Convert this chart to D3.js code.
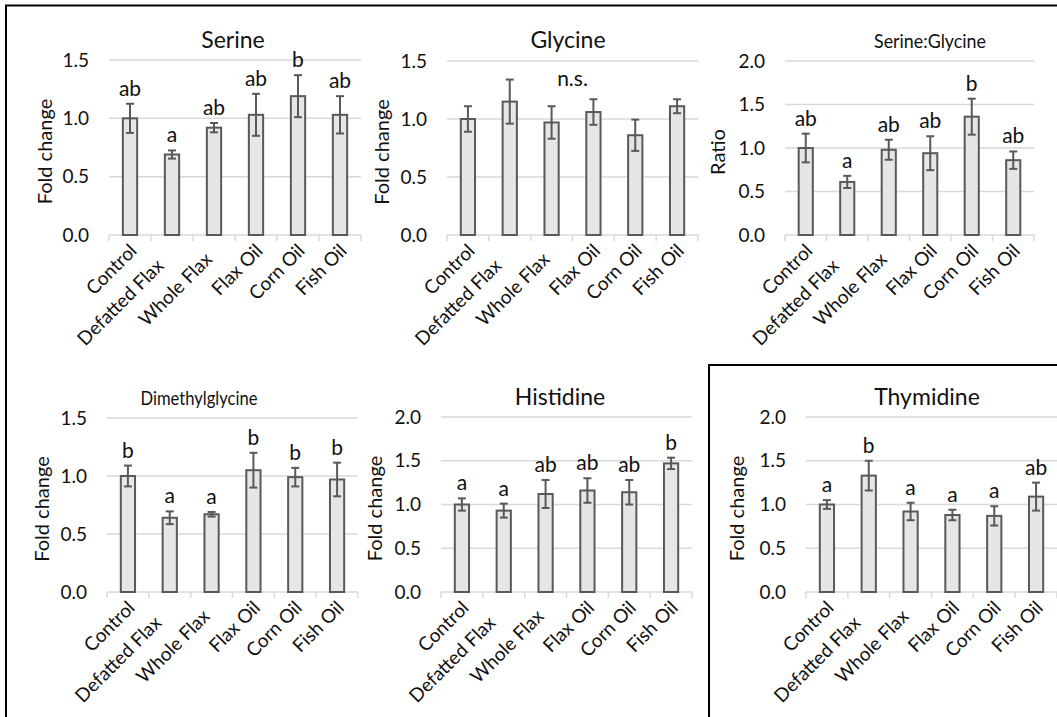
<!DOCTYPE html>
<html>
<head>
<meta charset="utf-8">
<script src="https://cdn.jsdelivr.net/npm/d3@7"></script>
<style>
  html, body { margin: 0; padding: 0; background: #fff; }
  svg { display: block; font-family: Lato, "Open Sans", sans-serif; }
</style>
</head>
<body>
<svg id="fig" width="1057" height="717"></svg>
<script>
// Diet groups shown on every panel
const groups = ["Control", "Defatted Flax", "Whole Flax", "Flax Oil", "Corn Oil", "Fish Oil"];

// Serine (fold change vs control)
const serineMean = [1.00, 0.69, 0.92, 1.03, 1.19, 1.03];
const serineErr = [0.125, 0.035, 0.04, 0.18, 0.18, 0.16];
const serineLetters = ["ab", "a", "ab", "ab", "b", "ab"];

// Glycine (fold change vs control)
const glycineMean = [1.00, 1.15, 0.97, 1.06, 0.86, 1.11];
const glycineErr = [0.11, 0.19, 0.14, 0.11, 0.135, 0.06];
const glycineLetters = ["", "", "", "", "", ""];
const glycineNote = "n.s.";

// Serine:Glycine ratio
const ratioMean = [1.00, 0.61, 0.98, 0.94, 1.36, 0.86];
const ratioErr = [0.165, 0.07, 0.115, 0.195, 0.207, 0.10];
const ratioLetters = ["ab", "a", "ab", "ab", "b", "ab"];

// Dimethylglycine (fold change vs control)
const dmgMean = [1.00, 0.64, 0.67, 1.05, 0.99, 0.97];
const dmgErr = [0.09, 0.055, 0.02, 0.15, 0.08, 0.145];
const dmgLetters = ["b", "a", "a", "b", "b", "b"];

// Histidine (fold change vs control)
const hisMean = [1.00, 0.93, 1.12, 1.16, 1.14, 1.47];
const hisErr = [0.07, 0.08, 0.16, 0.14, 0.14, 0.065];
const hisLetters = ["a", "a", "ab", "ab", "ab", "b"];

// Thymidine (fold change vs control)
const thyMean = [1.00, 1.33, 0.92, 0.88, 0.87, 1.09];
const thyErr = [0.05, 0.17, 0.10, 0.06, 0.11, 0.16];
const thyLetters = ["a", "b", "a", "a", "a", "ab"];

// Y axis tick values
const ticks15 = [0, 0.5, 1.0, 1.5];
const ticks20 = [0, 0.5, 1.0, 1.5, 2.0];

// Panel layout: plot-area box, title and axis-title placement
// (titleWidth fits a long title into the given width)
const panels = [
  { title: "Serine", yTitle: "Fold change", mean: serineMean, err: serineErr, letters: serineLetters,
    ticks: ticks15, x0: 109, x1: 361, yTop: 60, yBot: 235, titleX: 233, titleY: 48, titleSize: 23, yTitleX: 45 },
  { title: "Glycine", yTitle: "Fold change", mean: glycineMean, err: glycineErr, letters: glycineLetters,
    note: glycineNote, ticks: ticks15, x0: 447, x1: 698, yTop: 61, yBot: 235, titleX: 568, titleY: 48, titleSize: 23, yTitleX: 382 },
  { title: "Serine:Glycine", yTitle: "Ratio", mean: ratioMean, err: ratioErr, letters: ratioLetters,
    ticks: ticks20, x0: 785, x1: 1034, yTop: 61, yBot: 235, titleX: 930, titleY: 48, titleSize: 20, titleWidth: 112, yTitleX: 718 },
  { title: "Dimethylglycine", yTitle: "Fold change", mean: dmgMean, err: dmgErr, letters: dmgLetters,
    ticks: ticks15, x0: 107, x1: 358, yTop: 418, yBot: 592, titleX: 199, titleY: 405, titleSize: 20, titleWidth: 117, yTitleX: 42 },
  { title: "Histidine", yTitle: "Fold change", mean: hisMean, err: hisErr, letters: hisLetters,
    ticks: ticks20, x0: 441, x1: 692, yTop: 417, yBot: 592, titleX: 560, titleY: 405, titleSize: 23, yTitleX: 375 },
  { title: "Thymidine", yTitle: "Fold change", mean: thyMean, err: thyErr, letters: thyLetters,
    ticks: ticks20, x0: 806, x1: 1057, yTop: 417, yBot: 592, titleX: 927, titleY: 405, titleSize: 23, yTitleX: 737 }
];

const svg = d3.select("#fig");
const barFill = "#e7e6e6", barStroke = "#595959", gridColor = "#d9d9d9", textColor = "#111";

// outer frame and the boxed Thymidine panel
svg.append("rect").attr("x", 6).attr("y", 5.5).attr("width", 1100).attr("height", 800)
  .attr("fill", "none").attr("stroke", "#000").attr("stroke-width", 2);
svg.append("rect").attr("x", 709).attr("y", 365).attr("width", 400).attr("height", 400)
  .attr("fill", "none").attr("stroke", "#000").attr("stroke-width", 2);

panels.forEach(p => {
  const g = svg.append("g");
  const x = d3.scaleBand().domain(groups).range([p.x0, p.x1]);
  const yMax = p.ticks[p.ticks.length - 1];
  const y = d3.scaleLinear().domain([0, yMax]).range([p.yBot, p.yTop]);
  const bw = x.bandwidth() * 0.34;
  const data = groups.map((k, i) => ({ k, m: p.mean[i], e: p.err[i], l: p.letters[i] }));

  // horizontal gridlines
  g.append("g").selectAll("line").data(p.ticks.filter(t => t > 0)).join("line")
    .attr("x1", p.x0).attr("x2", p.x1)
    .attr("y1", d => y(d)).attr("y2", d => y(d))
    .attr("stroke", gridColor).attr("stroke-width", 1.5);

  // y tick labels
  const ya = g.append("g").attr("transform", `translate(${p.x0},0)`)
    .call(d3.axisLeft(y).tickValues(p.ticks).tickFormat(d3.format(".1f")).tickSize(0).tickPadding(20));
  ya.select(".domain").remove();
  ya.selectAll("text").attr("font-size", 19).attr("fill", textColor).attr("font-family", "Lato");

  // category axis with boundary tick marks
  g.append("line").attr("x1", p.x0).attr("x2", p.x1).attr("y1", p.yBot).attr("y2", p.yBot)
    .attr("stroke", gridColor).attr("stroke-width", 1.5);
  const bounds = groups.map(k => x(k)).concat([p.x1]);
  g.append("g").selectAll("line").data(bounds).join("line")
    .attr("x1", d => d).attr("x2", d => d).attr("y1", p.yBot).attr("y2", p.yBot + 6)
    .attr("stroke", gridColor).attr("stroke-width", 1.5);

  const xa = g.append("g").attr("transform", `translate(0,${p.yBot})`)
    .call(d3.axisBottom(x).tickSize(0).tickPadding(0));
  xa.select(".domain").remove();
  xa.selectAll("text")
    .attr("font-size", 19).attr("fill", textColor).attr("font-family", "Lato")
    .attr("text-anchor", "end").attr("dy", 0).attr("y", 0)
    .attr("transform", "translate(8,17) rotate(-45)")
    // long labels slide a little further down along their own baseline
    .attr("dx", function () { return -Math.max(0, this.getComputedTextLength() - 70) * 0.5; });

  // bars
  g.append("g").selectAll("rect").data(data).join("rect")
    .attr("x", d => x(d.k) + x.bandwidth() / 2 - bw / 2)
    .attr("width", bw)
    .attr("y", d => y(d.m))
    .attr("height", d => y(0) - y(d.m))
    .attr("fill", barFill).attr("stroke", barStroke).attr("stroke-width", 2);

  // error bars (mean ± SE)
  const eb = g.append("g").attr("stroke", barStroke).attr("stroke-width", 2);
  const cx = d => x(d.k) + x.bandwidth() / 2;
  eb.selectAll(".v").data(data).join("line")
    .attr("x1", cx).attr("x2", cx)
    .attr("y1", d => y(d.m - d.e)).attr("y2", d => y(d.m + d.e));
  [1, -1].forEach(s => {
    eb.selectAll(".c" + s).data(data).join("line")
      .attr("x1", d => cx(d) - 4).attr("x2", d => cx(d) + 4)
      .attr("y1", d => y(d.m + s * d.e)).attr("y2", d => y(d.m + s * d.e));
  });

  // significance letters
  g.append("g").selectAll("text").data(data.filter(d => d.l)).join("text")
    .attr("x", cx).attr("y", d => y(d.m + d.e) - 8)
    .attr("text-anchor", "middle").attr("font-size", 21).attr("fill", textColor)
    .text(d => d.l);

  if (p.note) {
    g.append("text").attr("x", (p.x0 + p.x1) / 2).attr("y", 86)
      .attr("text-anchor", "middle").attr("font-size", 21).attr("fill", textColor).text(p.note);
  }

  // panel title
  const t = g.append("text").attr("x", p.titleX).attr("y", p.titleY)
    .attr("text-anchor", "middle").attr("font-size", p.titleSize).attr("fill", textColor).text(p.title);
  if (p.titleWidth) t.attr("textLength", p.titleWidth).attr("lengthAdjust", "spacingAndGlyphs");

  // y axis title
  g.append("text")
    .attr("transform", `translate(${p.yTitleX + 7},${(p.yTop + p.yBot) / 2 + 4}) rotate(-90)`)
    .attr("text-anchor", "middle").attr("font-size", 20).attr("fill", textColor).text(p.yTitle);
});
</script>
</body>
</html>
